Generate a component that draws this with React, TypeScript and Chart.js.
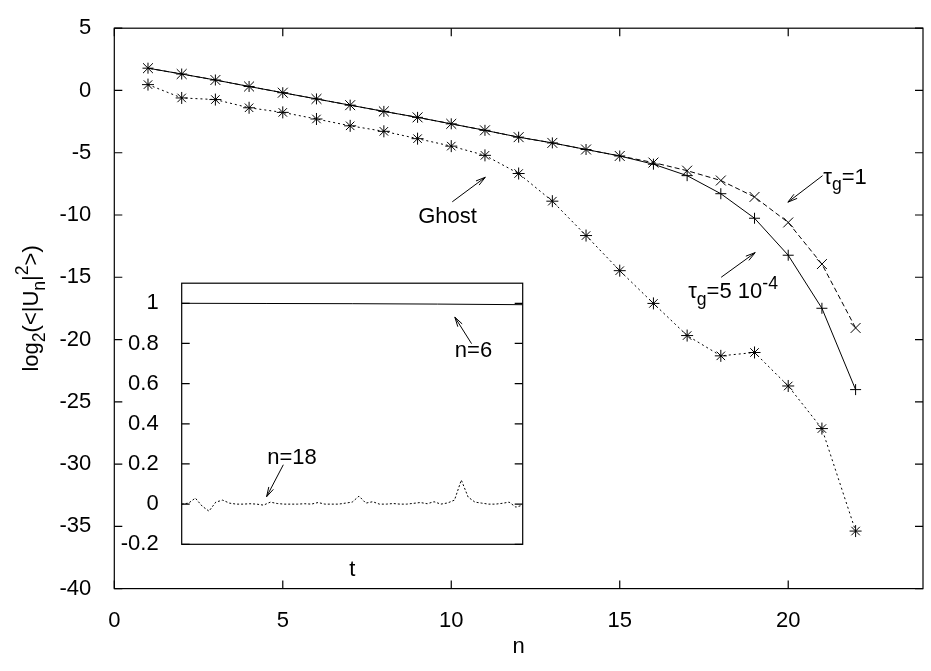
import React, { useEffect, useRef } from 'react';
import { Chart, registerables } from 'chart.js';

Chart.register(...registerables);

// ---------------- data (main plot) ----------------
const N = [1, 2, 3, 4, 5, 6, 7, 8, 9, 10, 11, 12, 13, 14, 15, 16, 17, 18, 19, 20, 21, 22];
// tau_g = 5 10^-4 (solid, +)
const TAU_SMALL = [1.79, 1.32, 0.84, 0.32, -0.18, -0.68, -1.18, -1.68, -2.16, -2.68, -3.2, -3.75, -4.21, -4.74, -5.26, -5.92, -6.84, -8.29, -10.26, -13.23, -17.49, -24.02];
// tau_g = 1 (dashed, x)
const TAU_ONE = [1.79, 1.32, 0.84, 0.32, -0.18, -0.68, -1.18, -1.68, -2.16, -2.68, -3.2, -3.75, -4.21, -4.74, -5.26, -5.79, -6.44, -7.23, -8.55, -10.6, -13.94, -19.07];
// Ghost (dotted, *)
const GHOST = [0.47, -0.6, -0.73, -1.39, -1.76, -2.29, -2.84, -3.28, -3.87, -4.47, -5.21, -6.67, -8.89, -11.65, -14.47, -17.1, -19.68, -21.31, -21.04, -23.73, -27.15, -35.38];
const X_TICKS = [0, 5, 10, 15, 20];
const Y_TICKS = [5, 0, -5, -10, -15, -20, -25, -30, -35, -40];

// ---------------- data (inset) ----------------
const INSET_T = [0, 2, 4, 6, 8, 10, 12, 14, 16, 18, 20, 22, 24, 26, 28, 30, 32, 34, 36, 38, 40, 42, 44, 46, 48, 50, 52, 54, 56, 58, 60, 62, 64, 66, 68, 70, 72, 74, 76, 78, 80, 82, 84, 86, 88, 90, 92, 94, 96, 98, 100];
const INSET_N18 = [0, 0.005, 0.03, -0.01, -0.035, 0.01, 0.02, 0.005, 0, 0, 0.002, 0, -0.005, 0.01, 0.003, 0, 0, 0, 0.002, 0, 0.008, 0, 0, 0, 0.005, 0.01, 0.04, 0.005, 0.012, 0, 0, 0.003, 0, 0, 0.004, 0.008, 0.002, 0.012, 0, 0.006, 0.02, 0.12, 0.035, 0.01, 0.005, 0, 0, 0.004, 0.01, -0.015, -0.005];
const INSET_N6_T = [0, 25, 50, 75, 100];
const INSET_N6 = [1.0, 0.999, 0.998, 0.996, 0.993];
const INSET_Y_TICKS = [1, 0.8, 0.6, 0.4, 0.2, 0, -0.2];

const FONT = '"Liberation Sans", Arial, Helvetica, sans-serif';
const FS = 22;

type Part = { t: string; k?: 'sub' | 'sup' };

function richWidth(ctx: CanvasRenderingContext2D, parts: Part[], size: number) {
  let w = 0;
  for (const p of parts) {
    const s = p.k ? size * 0.8 : size;
    ctx.font = `${s}px ${FONT}`;
    w += ctx.measureText(p.t).width;
  }
  return w;
}

function drawRich(ctx: CanvasRenderingContext2D, parts: Part[], x: number, y: number, size: number) {
  let cx = x;
  ctx.textBaseline = 'alphabetic';
  ctx.textAlign = 'left';
  for (const p of parts) {
    const s = p.k ? size * 0.8 : size;
    const dy = p.k === 'sub' ? size * 0.3 : p.k === 'sup' ? -size * 0.45 : 0;
    ctx.font = `${s}px ${FONT}`;
    ctx.fillText(p.t, cx, y + dy);
    cx += ctx.measureText(p.t).width;
  }
}

function arrow(ctx: CanvasRenderingContext2D, x0: number, y0: number, x1: number, y1: number) {
  const ang = Math.atan2(y1 - y0, x1 - x0);
  const L = 10;
  const a = (15 * Math.PI) / 180;
  ctx.beginPath();
  ctx.moveTo(x0, y0);
  ctx.lineTo(x1, y1);
  ctx.moveTo(x1, y1);
  ctx.lineTo(x1 - L * Math.cos(ang - a), y1 - L * Math.sin(ang - a));
  ctx.moveTo(x1, y1);
  ctx.lineTo(x1 - L * Math.cos(ang + a), y1 - L * Math.sin(ang + a));
  ctx.stroke();
}

function framePlugin(len: number, xTicks: boolean) {
  return {
    id: 'frameTicks',
    afterDatasetsDraw(chart: any) {
      const { ctx, chartArea: a } = chart;
      const sx = chart.scales.x;
      const sy = chart.scales.y;
      ctx.save();
      ctx.strokeStyle = '#000';
      ctx.lineWidth = 1.2;
      ctx.setLineDash([]);
      ctx.strokeRect(a.left, a.top, a.right - a.left, a.bottom - a.top);
      ctx.beginPath();
      if (xTicks) {
        for (const t of sx.ticks) {
          const p = sx.getPixelForValue(t.value);
          ctx.moveTo(p, a.bottom);
          ctx.lineTo(p, a.bottom - len);
          ctx.moveTo(p, a.top);
          ctx.lineTo(p, a.top + len);
        }
      }
      for (const t of sy.ticks) {
        const p = sy.getPixelForValue(t.value);
        ctx.moveTo(a.left, p);
        ctx.lineTo(a.left + len, p);
        ctx.moveTo(a.right, p);
        ctx.lineTo(a.right - len, p);
      }
      ctx.stroke();
      ctx.restore();
    },
  };
}

const mainAnnotations = {
  id: 'mainAnn',
  afterDraw(chart: any) {
    const { ctx, chartArea: a } = chart;
    const sx = chart.scales.x;
    const sy = chart.scales.y;
    const X = (v: number) => sx.getPixelForValue(v);
    const Y = (v: number) => sy.getPixelForValue(v);
    ctx.save();
    ctx.fillStyle = '#000';
    ctx.strokeStyle = '#000';
    ctx.lineWidth = 1;
    ctx.setLineDash([]);
    // texts
    drawRich(ctx, [{ t: 'Ghost' }], X(9.02), Y(-10.66), FS);
    drawRich(ctx, [{ t: 'τ' }, { t: 'g', k: 'sub' }, { t: '=1' }], X(21.04), Y(-7.5), FS);
    drawRich(ctx, [{ t: 'τ' }, { t: 'g', k: 'sub' }, { t: '=5 10' }, { t: '-4', k: 'sup' }], X(17.03), Y(-16.7), FS);
    // arrows
    arrow(ctx, X(10.03), Y(-8.94), X(11.01), Y(-6.97));
    arrow(ctx, X(21.02), Y(-6.84), X(19.99), Y(-8.97));
    arrow(ctx, X(18.01), Y(-15.0), X(19.02), Y(-13.02));
    // x title
    ctx.font = `${FS}px ${FONT}`;
    ctx.textAlign = 'center';
    ctx.textBaseline = 'alphabetic';
    ctx.fillText('n', (a.left + a.right) / 2, 653);
    // y title (rotated, with sub/superscripts)
    const parts: Part[] = [
      { t: 'log' }, { t: '2', k: 'sub' }, { t: '(<|U' }, { t: 'n', k: 'sub' }, { t: '|' }, { t: '2', k: 'sup' }, { t: '>)' },
    ];
    const w = richWidth(ctx, parts, FS);
    ctx.translate(38, (a.top + a.bottom) / 2);
    ctx.rotate(-Math.PI / 2);
    drawRich(ctx, parts, -w / 2, 0, FS);
    ctx.restore();
  },
};

const insetAnnotations = {
  id: 'insetAnn',
  afterDraw(chart: any) {
    const { ctx, chartArea: a } = chart;
    const sx = chart.scales.x;
    const sy = chart.scales.y;
    const X = (v: number) => sx.getPixelForValue(v);
    const Y = (v: number) => sy.getPixelForValue(v);
    ctx.save();
    ctx.fillStyle = '#000';
    ctx.strokeStyle = '#000';
    ctx.lineWidth = 1;
    ctx.setLineDash([]);
    drawRich(ctx, [{ t: 'n=6' }], X(80.1), Y(0.735), FS);
    drawRich(ctx, [{ t: 'n=18' }], X(25.1), Y(0.201), FS);
    arrow(ctx, X(85.0), Y(0.799), X(80.1), Y(0.931));
    arrow(ctx, X(29.8), Y(0.196), X(24.9), Y(0.037));
    ctx.font = `${FS}px ${FONT}`;
    ctx.textAlign = 'center';
    ctx.textBaseline = 'alphabetic';
    ctx.fillText('t', (a.left + a.right) / 2, a.bottom + 32);
    ctx.restore();
  },
};

export default function App() {
  const mainRef = useRef<HTMLCanvasElement>(null);
  const insetRef = useRef<HTMLCanvasElement>(null);

  useEffect(() => {
    Chart.defaults.font.family = FONT;
    Chart.defaults.font.size = FS;
    Chart.defaults.color = '#000';

    const main = new Chart(mainRef.current as HTMLCanvasElement, {
      type: 'line',
      data: {
        datasets: [
          {
            label: 'Ghost',
            data: N.map((n, i) => ({ x: n, y: GHOST[i] })),
            borderColor: '#000',
            borderWidth: 1,
            borderDash: [2, 3],
            pointStyle: 'star',
            pointRadius: 6,
            pointBorderColor: '#000',
            pointBorderWidth: 1,
            fill: false,
          },
          {
            label: 'tau_g=1',
            data: N.map((n, i) => ({ x: n, y: TAU_ONE[i] })),
            borderColor: '#000',
            borderWidth: 1,
            borderDash: [5, 3],
            pointStyle: 'crossRot',
            pointRadius: 7,
            pointBorderColor: '#000',
            pointBorderWidth: 1,
            fill: false,
          },
          {
            label: 'tau_g=5e-4',
            data: N.map((n, i) => ({ x: n, y: TAU_SMALL[i] })),
            borderColor: '#000',
            borderWidth: 1,
            pointStyle: 'cross',
            pointRadius: 5.5,
            pointBorderColor: '#000',
            pointBorderWidth: 1,
            fill: false,
          },
        ],
      },
      options: {
        animation: false,
        responsive: false,
        events: [],
        layout: { padding: { left: 0, top: 18.3, right: 5, bottom: 0 } },
        plugins: { legend: { display: false }, tooltip: { enabled: false } },
        scales: {
          x: {
            type: 'linear',
            min: 0,
            max: 24,
            grid: { display: false },
            border: { display: false },
            ticks: { padding: 11.5, font: { size: FS } },
            afterBuildTicks: (s: any) => {
              s.ticks = X_TICKS.map((v) => ({ value: v }));
            },
            afterFit: (s: any) => {
              s.height = 671 - 588.6;
            },
          },
          y: {
            type: 'linear',
            min: -40,
            max: 5,
            grid: { display: false },
            border: { display: false },
            ticks: { padding: 15, font: { size: FS } },
            afterBuildTicks: (s: any) => {
              s.ticks = Y_TICKS.map((v) => ({ value: v }));
            },
            afterFit: (s: any) => {
              s.width = 114.3;
            },
          },
        },
      },
      plugins: [framePlugin(8, true), mainAnnotations],
    } as any);

    const inset = new Chart(insetRef.current as HTMLCanvasElement, {
      type: 'line',
      data: {
        datasets: [
          {
            label: 'n=6',
            data: INSET_N6_T.map((t, i) => ({ x: t, y: INSET_N6[i] })),
            borderColor: '#000',
            borderWidth: 1,
            pointRadius: 0,
            fill: false,
          },
          {
            label: 'n=18',
            data: INSET_T.map((t, i) => ({ x: t, y: INSET_N18[i] })),
            borderColor: '#000',
            borderWidth: 1,
            borderDash: [2, 2],
            pointRadius: 0,
            fill: false,
          },
        ],
      },
      options: {
        animation: false,
        responsive: false,
        events: [],
        layout: { padding: { left: 0, top: 18.3, right: 17.3, bottom: 0 } },
        plugins: { legend: { display: false }, tooltip: { enabled: false } },
        scales: {
          x: {
            type: 'linear',
            min: 0,
            max: 100,
            grid: { display: false },
            border: { display: false },
            ticks: { display: false },
            afterFit: (s: any) => {
              s.height = 45.7;
            },
          },
          y: {
            type: 'linear',
            min: -0.2,
            max: 1.1,
            grid: { display: false },
            border: { display: false },
            ticks: {
              padding: 15,
              font: { size: FS },
              callback: (v: any) => String(Math.round(Number(v) * 10) / 10),
            },
            afterBuildTicks: (s: any) => {
              s.ticks = INSET_Y_TICKS.map((v) => ({ value: v }));
            },
            afterFit: (s: any) => {
              s.width = 71.7;
            },
          },
        },
      },
      plugins: [framePlugin(8, false), insetAnnotations],
    } as any);

    return () => {
      main.destroy();
      inset.destroy();
    };
  }, []);

  return (
    <div style={{ position: 'absolute', left: 0, top: 0, width: 931, height: 671, background: '#fff' }}>
      <canvas ref={mainRef} width={931} height={671} style={{ position: 'absolute', left: 0, top: 0 }} />
      <canvas ref={insetRef} width={430} height={335} style={{ position: 'absolute', left: 110, top: 255 }} />
    </div>
  );
}
